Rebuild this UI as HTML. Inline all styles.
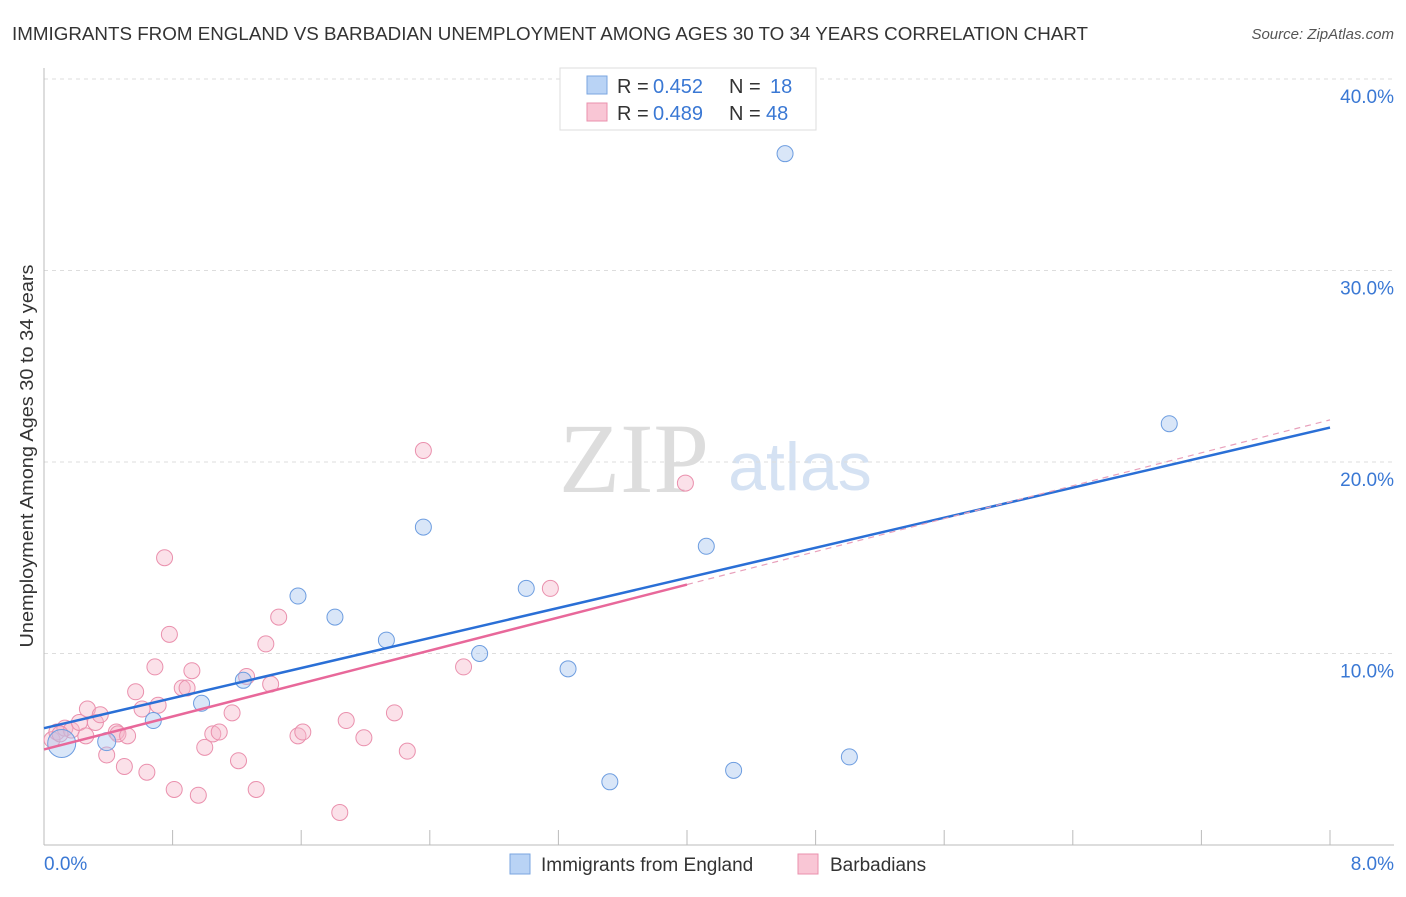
<!DOCTYPE html>
<html><head><meta charset="utf-8"><style>
body{margin:0;background:#fff;font-family:"Liberation Sans",sans-serif;}
svg text{font-family:"Liberation Sans",sans-serif;}
</style></head><body>
<svg id="c" width="1406" height="892">
<text x="12" y="40" font-size="18" fill="#333" textLength="1076" lengthAdjust="spacingAndGlyphs">IMMIGRANTS FROM ENGLAND VS BARBADIAN UNEMPLOYMENT AMONG AGES 30 TO 34 YEARS CORRELATION CHART</text>
<text x="1394" y="39" font-size="15" fill="#555" font-style="italic" text-anchor="end">Source: ZipAtlas.com</text>
<text x="33" y="456" font-size="18" fill="#333" text-anchor="middle" textLength="383" lengthAdjust="spacingAndGlyphs" transform="rotate(-90 33 456)">Unemployment Among Ages 30 to 34 years</text>
<text x="634" y="492" font-size="100" fill="#ddd" style="font-family:'Liberation Serif',serif" text-anchor="middle">ZIP</text>
<text x="800" y="490" font-size="68" fill="#d5e2f3" text-anchor="middle">atlas</text>
<g id="grid"></g><g id="marks"></g>
<g>
<rect x="560" y="68" width="256" height="62" fill="#fff" stroke="#ddd"/>
<rect x="587" y="76" width="20" height="18" fill="#b9d3f5" stroke="#7aa6e0"/>
<text y="93" font-size="20" fill="#333"><tspan x="617">R =</tspan><tspan x="653" fill="#3a78d4">0.452</tspan><tspan x="729">N =</tspan><tspan x="770" fill="#3a78d4">18</tspan></text>
<rect x="587" y="103" width="20" height="18" fill="#f9c6d5" stroke="#ea90ad"/>
<text y="120" font-size="20" fill="#333"><tspan x="617">R =</tspan><tspan x="653" fill="#3a78d4">0.489</tspan><tspan x="729">N =</tspan><tspan x="766" fill="#3a78d4">48</tspan></text>
</g>
<g>
<rect x="510" y="854" width="20" height="20" fill="#b9d3f5" stroke="#7aa6e0"/>
<text x="541" y="871" font-size="19" fill="#333">Immigrants from England</text>
<rect x="798" y="854" width="20" height="20" fill="#f9c6d5" stroke="#ea90ad"/>
<text x="830" y="871" font-size="19" fill="#333">Barbadians</text>
</g>
</svg>
<script>
const yTicks=[10,20,30,40];
const yTickLabels=["10.0%","20.0%","30.0%","40.0%"];
const xEnds=[0,8];
const xEndLabels=["0.0%","8.0%"];
const englandX=[0.11,0.39,0.68,0.98,1.24,1.58,1.81,2.13,2.36,2.71,3.0,3.26,3.52,4.12,4.29,4.61,5.01,7.0];
const englandY=[5.3,5.4,6.5,7.4,8.6,13.0,11.9,10.7,16.6,10.0,13.4,9.2,3.3,15.6,3.9,36.1,4.6,22.0];
const englandSize=[14,9,8,8,8,8,8,8,8,8,8,8,8,8,8,8,8,8];
const barbX=[0.05,0.08,0.13,0.17,0.22,0.26,0.27,0.32,0.35,0.39,0.45,0.46,0.50,0.52,0.57,0.61,0.64,0.69,0.71,0.75,0.78,0.81,0.86,0.89,0.92,0.96,1.0,1.05,1.09,1.17,1.21,1.26,1.32,1.38,1.41,1.46,1.58,1.61,1.84,1.88,1.99,2.18,2.26,2.36,2.61,3.15,3.99,0.10];
const barbY=[5.5,5.9,6.1,6.0,6.4,5.7,7.1,6.4,6.8,4.7,5.9,5.8,4.1,5.7,8.0,7.1,3.8,9.3,7.3,15.0,11.0,2.9,8.2,8.2,9.1,2.6,5.1,5.8,5.9,6.9,4.4,8.8,2.9,10.5,8.4,11.9,5.7,5.9,1.7,6.5,5.6,6.9,4.9,20.6,9.3,13.4,18.9,5.8];
const englandFit=[6.1,21.8];
const barbFit=[4.99,13.6,22.2];
const ns="http://www.w3.org/2000/svg";
const X=v=>44+v/8*1286, Y=v=>845-v*19.15;
const grid=document.getElementById('grid'), marks=document.getElementById('marks');
function mk(tag,attrs,parent){const e=document.createElementNS(ns,tag);for(const k in attrs)e.setAttribute(k,attrs[k]);parent.appendChild(e);return e;}
yTicks.forEach((t,i)=>{
 const l=mk('line',{x1:44,x2:1394,y1:Y(t),y2:Y(t),stroke:'#ddd','stroke-dasharray':'4,4'},grid);
 
 
 const tx=mk('text',{x:1394,y:Y(t)+24,'font-size':19,fill:'#3a78d4','text-anchor':'end'},grid);tx.textContent=yTickLabels[i];
 
 
});
const ax=mk('line',{x1:44,x2:1394,y1:845,y2:845,stroke:'#bbb'},grid);


const ay=mk('line',{x1:44,x2:44,y1:68,y2:845,stroke:'#bbb'},grid);


for(let i=1;i<=10;i++){mk('line',{x1:X(i*0.8),x2:X(i*0.8),y1:830,y2:845,stroke:'#bbb'},grid);}
xEnds.forEach((v,i)=>{const t=mk('text',{x:i?1394:44,y:870,'font-size':19,fill:'#3a78d4','text-anchor':i?'end':'start'},grid);t.textContent=xEndLabels[i];
 
 });
barbX.forEach((x,i)=>{const c=mk('circle',{cx:X(x),cy:Y(barbY[i]),r:8,fill:'rgba(246,180,200,0.4)',stroke:'#ea90ad','stroke-width':1},marks);
 
 });
englandX.forEach((x,i)=>{const c=mk('circle',{cx:X(x),cy:Y(englandY[i]),r:englandSize[i],fill:'rgba(170,200,240,0.45)',stroke:'#6d9de0','stroke-width':1},marks);
 
 });
const bl=mk('line',{x1:X(0),y1:Y(englandFit[0]),x2:X(8),y2:Y(englandFit[1]),stroke:'#2a6fd6','stroke-width':2.5},marks);


const pl=mk('line',{x1:X(0),y1:Y(barbFit[0]),x2:X(4),y2:Y(barbFit[1]),stroke:'#e8689a','stroke-width':2.5},marks);


const pd=mk('line',{x1:X(4),y1:Y(barbFit[1]),x2:X(8),y2:Y(barbFit[2]),stroke:'#e8a0bb','stroke-width':1.2,'stroke-dasharray':'6,5'},marks);


</script>
</body></html>
